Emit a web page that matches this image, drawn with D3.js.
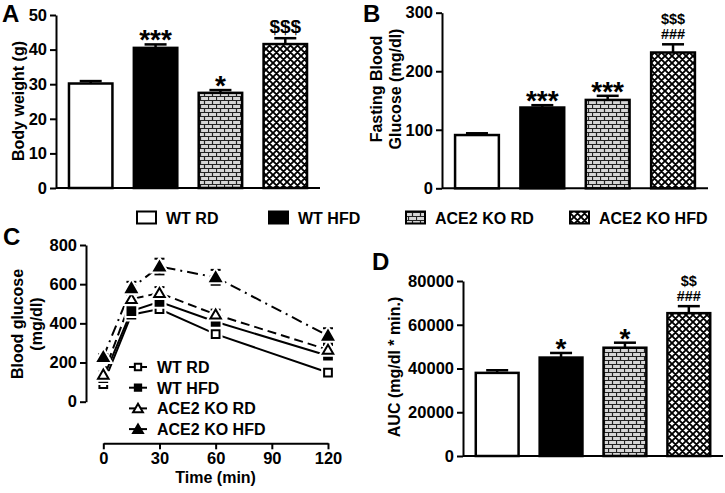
<!DOCTYPE html>
<html><head><meta charset="utf-8">
<script src="https://cdn.jsdelivr.net/npm/d3@7"></script>
<style>
body{margin:0;background:#fff;}
svg{display:block;font-family:"Liberation Sans",Arial,Helvetica,sans-serif;font-weight:bold;}
</style></head>
<body><svg id="c" width="725" height="493"></svg>
<script>
// ---------- data ----------
const groups = ["WT RD", "WT HFD", "ACE2 KO RD", "ACE2 KO HFD"];
const bodyWeight = [30.2, 40.5, 27.5, 41.6];
const bodyWeightErr = [0.7, 1.0, 0.8, 1.7];
const bodyWeightSig = [[], ["***"], ["*"], ["$$$"]];
const bodyWeightTicks = [0, 10, 20, 30, 40, 50];

const fastingGlucose = [91, 138, 151, 232];
const fastingGlucoseErr = [3, 4, 7, 14];
const fastingGlucoseSig = [[], ["***"], ["***"], ["###", "$$$"]];
const fastingGlucoseTicks = [0, 100, 200, 300];

const auc = [38000, 45000, 49500, 65300];
const aucErr = [1200, 2100, 2300, 3200];
const aucSig = [[], ["*"], ["*"], ["###", "$$"]];
const aucTicks = [0, 20000, 40000, 60000, 80000];

const timePoints = [0, 15, 30, 60, 120];
const timeTicks = [0, 30, 60, 90, 120];
const glucoseTicks = [0, 200, 400, 600, 800];
const gttWtRd = [90, 444, 473, 345, 149];
const gttWtRdErr = [10, 15, 15, 15, 12];
const gttWtHfd = [120, 463, 510, 408, 235];
const gttWtHfdErr = [12, 20, 25, 20, 20];
const gttKoRd = [138, 524, 555, 445, 265];
const gttKoRdErr = [15, 30, 30, 25, 25];
const gttKoHfd = [228, 580, 690, 635, 337];
const gttKoHfdErr = [15, 32, 40, 38, 38];

// ---------- setup ----------
const svg = d3.select("#c");
svg.append("rect").attr("width",725).attr("height",493).attr("fill","#fff");
const defs = svg.append("defs");
// brick pattern
const pb = defs.append("pattern").attr("id","brick").attr("patternUnits","userSpaceOnUse")
  .attr("width",8).attr("height",8);
pb.append("rect").attr("width",8).attr("height",8).attr("fill","#d6d6d6");
pb.append("path").attr("d","M0,0.5H8M0,4.5H8M0.5,0V4.5M4.5,4.5V8")
  .attr("stroke","#222").attr("stroke-width",1.2).attr("fill","none");
// cross-hatch pattern
const ph = defs.append("pattern").attr("id","hatch").attr("patternUnits","userSpaceOnUse")
  .attr("width",7).attr("height",7);
ph.append("rect").attr("width",7).attr("height",7).attr("fill","#fff");
ph.append("path").attr("d","M-1,-1L8,8M-1,8L8,-1M-4.5,2.5L2.5,-4.5M4.5,11.5L11.5,4.5M-4.5,4.5L2.5,11.5M4.5,-4.5L11.5,2.5")
  .attr("stroke","#000").attr("stroke-width",1.9).attr("fill","none");
const fills = ["#fff", "#000", "url(#brick)", "url(#hatch)"];

function label(txt, x, y){
  svg.append("text").attr("x",x).attr("y",y).attr("font-size",24).text(txt);
}
function yLabel(lines, x0, cy, fs){
  lines.forEach((t,i)=>{
    const x = x0 + i*fs*1.2;
    svg.append("text").attr("transform",`translate(${x},${cy}) rotate(-90)`)
      .attr("text-anchor","middle").attr("font-size",fs).text(t);
  });
}
function yAxis(scale, x, ticks, fmt){
  const g = svg.append("g").attr("transform",`translate(${x},0)`)
    .call(d3.axisLeft(scale).tickValues(ticks).tickSize(6).tickSizeOuter(0).tickPadding(3).tickFormat(fmt||d3.format("d")));
  g.select(".domain").attr("stroke","#000").attr("stroke-width",2);
  g.selectAll(".tick line").attr("stroke","#000").attr("stroke-width",2);
  g.selectAll(".tick text").attr("font-size",16.5).attr("font-family","inherit").attr("font-weight","bold").attr("fill","#000");
  return g;
}

function barPanel(opts){
  const {vals, errs, sig, ticks, yTop, yBot, xL, xR, axisX, sigSizes} = opts;
  const y = d3.scaleLinear().domain([0, ticks[ticks.length-1]]).range([yBot, yTop]);
  const x = d3.scaleBand().domain(groups).range([xL, xR]).paddingInner(0.33).paddingOuter(0.2);
  yAxis(y, axisX, ticks);
  svg.append("line").attr("x1",axisX).attr("x2",xR).attr("y1",y(0)).attr("y2",y(0))
    .attr("stroke","#000").attr("stroke-width",2);
  const bw = x.bandwidth();
  groups.forEach((g,i)=>{
    const cx = x(g)+bw/2;
    const et = y(vals[i]+errs[i]);
    svg.append("line").attr("x1",cx).attr("x2",cx).attr("y1",y(vals[i])).attr("y2",et)
      .attr("stroke","#000").attr("stroke-width",2.5);
    svg.append("line").attr("x1",cx-11).attr("x2",cx+11).attr("y1",et).attr("y2",et)
      .attr("stroke","#000").attr("stroke-width",2.5);
    svg.append("rect").attr("x",x(g)).attr("y",y(vals[i])).attr("width",bw)
      .attr("height",y(0)-y(vals[i])).attr("fill",fills[i]).attr("stroke","#000").attr("stroke-width",2.5);
    let base = et;
    sig[i].forEach((s)=>{
      if (s.startsWith("*")){
        svg.append("text").attr("x",cx).attr("y",base+5).attr("text-anchor","middle")
          .attr("font-size",28).text(s);
        base -= 18;
      } else {
        const fs = sigSizes;
        svg.append("text").attr("x",cx).attr("y",base-5).attr("text-anchor","middle")
          .attr("font-size",fs).text(s);
        base -= fs*1.05;
      }
    });
  });
}

// ---------- Panel A ----------
label("A", 2, 22);
yLabel(["Body weight (g)"], 24, 101, 16);
barPanel({vals: bodyWeight, errs: bodyWeightErr, sig: bodyWeightSig, ticks: bodyWeightTicks,
  yTop: 15, yBot: 188, xL: 56, xR: 320, axisX: 56, sigSizes: 19});

// ---------- Panel B ----------
label("B", 363, 22);
yLabel(["Fasting Blood", "Glucose (mg/dl)"], 382, 89, 16);
barPanel({vals: fastingGlucose, errs: fastingGlucoseErr, sig: fastingGlucoseSig, ticks: fastingGlucoseTicks,
  yTop: 12.7, yBot: 188.3, xL: 442, xR: 708, axisX: 442, sigSizes: 14.5});

// ---------- Panel D ----------
label("D", 372, 270);
yLabel(["AUC (mg/dl * min.)"], 400, 367, 16);
barPanel({vals: auc, errs: aucErr, sig: aucSig, ticks: aucTicks,
  yTop: 281, yBot: 456, xL: 463, xR: 723, axisX: 463, sigSizes: 14.5});

// ---------- Top legend ----------
const legX = [137, 269, 406, 570];
groups.forEach((g,i)=>{
  svg.append("rect").attr("x",legX[i]).attr("y",211.5).attr("width",19).attr("height",12)
    .attr("fill",fills[i]).attr("stroke","#000").attr("stroke-width",2);
  svg.append("text").attr("x",legX[i]+29).attr("y",224).attr("font-size",16).text(g);
});

// ---------- Panel C ----------
label("C", 3, 245);
yLabel(["Blood glucose", "(mg/dl)"], 23, 324, 16);
const xC = d3.scaleLinear().domain([0,120]).range([103.3, 328]);
const yC = d3.scaleLinear().domain([0,800]).range([401.7, 245]);
yAxis(yC, 86, glucoseTicks);
const gx = svg.append("g").attr("transform","translate(0,443.3)")
  .call(d3.axisBottom(xC).tickValues(timeTicks).tickSize(6).tickSizeOuter(0).tickPadding(3));
gx.select(".domain").attr("stroke","#000").attr("stroke-width",2);
gx.selectAll(".tick line").attr("stroke","#000").attr("stroke-width",2);
gx.selectAll(".tick text").attr("font-size",16.5).attr("font-family","inherit").attr("font-weight","bold").attr("fill","#000");
svg.append("text").attr("x",xC(60)).attr("y",483).attr("text-anchor","middle").attr("font-size",16).text("Time (min)");

const series = [
  {name: groups[0], v: gttWtRd, e: gttWtRdErr, shape: "square", filled: false, dash: null},
  {name: groups[1], v: gttWtHfd, e: gttWtHfdErr, shape: "square", filled: true, dash: null},
  {name: groups[2], v: gttKoRd, e: gttKoRdErr, shape: "triangle", filled: false, dash: "9,5"},
  {name: groups[3], v: gttKoHfd, e: gttKoHfdErr, shape: "triangle", filled: true, dash: "11,5,2,5"},
];
function marker(g, s, cx, cy){
  const sym = s.shape === "square" ? d3.symbolSquare : d3.symbolTriangle;
  const size = s.shape === "square" ? 60 : 48;
  const p = d3.symbol().type(sym).size(size)();
  const dy = s.shape === "triangle" ? 1 : 0;
  g.append("path").attr("d",p).attr("transform",`translate(${cx},${cy+dy})`)
    .attr("fill","#fff").attr("stroke","#fff").attr("stroke-width",6);
  g.append("path").attr("d",p).attr("transform",`translate(${cx},${cy+dy})`)
    .attr("fill", s.filled ? "#000" : "#fff").attr("stroke","#000").attr("stroke-width",2);
}
const line = d3.line().x((d,i)=>xC(timePoints[i])).y(d=>yC(d));
series.forEach(s=>{
  svg.append("path").attr("d",line(s.v)).attr("fill","none").attr("stroke","#000")
    .attr("stroke-width",2).attr("stroke-dasharray",s.dash);
});
series.forEach(s=>{
  const g = svg.append("g");
  s.v.forEach((v,i)=>{
    const cx = xC(timePoints[i]);
    g.append("line").attr("x1",cx).attr("x2",cx).attr("y1",yC(v-s.e[i])).attr("y2",yC(v+s.e[i]))
      .attr("stroke","#000").attr("stroke-width",2);
    [v+s.e[i], v-s.e[i]].forEach(w=>{
      g.append("line").attr("x1",cx-5).attr("x2",cx+5).attr("y1",yC(w)).attr("y2",yC(w))
        .attr("stroke","#000").attr("stroke-width",2);
    });
  });
});
series.forEach(s=>{
  const g = svg.append("g");
  s.v.forEach((v,i)=> marker(g, s, xC(timePoints[i]), yC(v)));
});
// Panel C legend
series.forEach((s,i)=>{
  const by = 373 + i*20.7;
  const cy = by - 6;
  svg.append("line").attr("x1",129).attr("x2",147).attr("y1",cy).attr("y2",cy)
    .attr("stroke","#000").attr("stroke-width",2);
  const g = svg.append("g");
  const sym = s.shape === "square" ? d3.symbolSquare : d3.symbolTriangle;
  g.append("path").attr("d",d3.symbol().type(sym).size(s.shape==="square"?40:42)())
    .attr("transform",`translate(138,${cy+ (s.shape==="triangle"?1:0)})`)
    .attr("fill", s.filled ? "#000" : "#fff").attr("stroke","#000").attr("stroke-width",2);
  svg.append("text").attr("x",157).attr("y",by).attr("font-size",16).text(s.name);
});
</script></body></html>
